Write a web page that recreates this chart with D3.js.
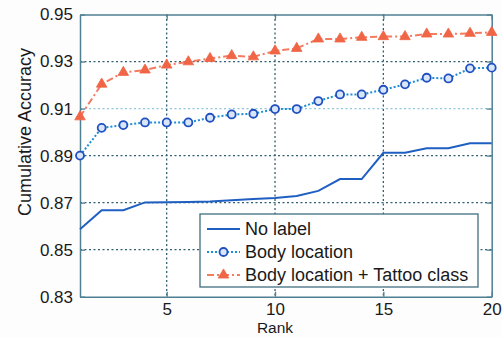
<!DOCTYPE html>
<html><head><meta charset="utf-8">
<script src="https://cdn.jsdelivr.net/npm/d3@7"></script>
<style>body{margin:0;background:#fdfdfe;} svg{display:block;font-family:"Liberation Sans",Arial,sans-serif;}</style>
</head><body>
<svg id="c" width="502" height="337"></svg>
<script>
const ranks = d3.range(1, 21);
const noLabel = [0.8587,0.8668,0.8668,0.8701,0.8702,0.8703,0.8705,0.8710,0.8715,0.8720,0.8728,0.8750,0.8800,0.8800,0.8912,0.8912,0.8931,0.8931,0.8952,0.8952];
const bodyLoc = [0.8900,0.9018,0.9030,0.9041,0.9041,0.9041,0.9061,0.9075,0.9078,0.9098,0.9098,0.9132,0.9160,0.9160,0.9180,0.9203,0.9231,0.9228,0.9271,0.9274];
const bodyTattoo = [0.9065,0.9204,0.9254,0.9264,0.9285,0.9299,0.9313,0.9325,0.9320,0.9345,0.9356,0.9396,0.9396,0.9403,0.9406,0.9406,0.9417,0.9417,0.9420,0.9424];
const yTicks = [0.83,0.85,0.87,0.89,0.91,0.93,0.95];
const xTicks = [5,10,15,20];
const seriesNames = ["No label","Body location","Body location + Tattoo class"];

const svg = d3.select("#c");
const L=80, R=491.7, T=14.5, B=296.7;
const x = d3.scaleLinear().domain([1,20]).range([L,R]);
const y = d3.scaleLinear().domain([0.83,0.95]).range([B,T]);
const gridCol = "#2f5f72", frameCol="#4f7f92";

svg.append("rect").attr("x",L).attr("y",T).attr("width",R-L).attr("height",B-T).attr("fill","#ffffff");

// gridlines
const g = svg.append("g");
g.selectAll(".gy").data(yTicks.slice(1,-1)).join("line")
  .attr("x1",L).attr("x2",R).attr("y1",d=>y(d)).attr("y2",d=>y(d))
  .attr("stroke",d=>d===0.91?"#8fc6d8":gridCol).attr("stroke-width",1.3).attr("stroke-dasharray","2,2.5");
g.selectAll(".gx").data(xTicks.slice(0,-1)).join("line")
  .attr("y1",T).attr("y2",B).attr("x1",d=>x(d)).attr("x2",d=>x(d))
  .attr("stroke",gridCol).attr("stroke-width",1.3).attr("stroke-dasharray","2,2.5");

// axes
const yAxisL = d3.axisLeft(y).tickValues(yTicks).tickFormat(d3.format(".2f")).tickSizeInner(-5).tickSizeOuter(0).tickPadding(7);
const yAxisR = d3.axisRight(y).tickValues(yTicks).tickFormat("").tickSizeInner(-5).tickSizeOuter(0);
const xAxisB = d3.axisBottom(x).tickValues(xTicks).tickSizeInner(-5).tickSizeOuter(0).tickPadding(6.5);
const xAxisT = d3.axisTop(x).tickValues(xTicks).tickFormat("").tickSizeInner(-5).tickSizeOuter(0);
function style(sel){
  sel.selectAll("path").attr("stroke",frameCol).attr("stroke-width",1.5);
  sel.selectAll("line").attr("stroke",frameCol).attr("stroke-width",1.3);
  sel.selectAll("text").attr("fill","#1a1a1a").attr("font-size",17).attr("font-family","Liberation Sans, Arial, sans-serif");
}
svg.append("g").attr("transform",`translate(${L},0)`).call(yAxisL).call(style);
svg.append("g").attr("transform",`translate(${R},0)`).call(yAxisR).call(style);
svg.append("g").attr("transform",`translate(0,${B})`).call(xAxisB).call(style);
svg.append("g").attr("transform",`translate(0,${T})`).call(xAxisT).call(style);

svg.append("text").attr("x",275).attr("y",333).attr("text-anchor","middle")
  .attr("font-size",15.5).attr("fill","#1a1a1a").text("Rank");
svg.append("text").attr("transform","translate(31,132) rotate(-90)").attr("text-anchor","middle")
  .attr("font-size",18).attr("fill","#1a1a1a").text("Cumulative Accuracy");

// lines
const line = d3.line().x((d,i)=>x(ranks[i])).y(d=>y(d));
const styles = [
  {data:noLabel, color:"#1f5fc2", dash:null, width:2, marker:null},
  {data:bodyLoc, color:"#1a8ed6", dash:"2,2", width:2, marker:"circle", mcolor:"#1f4fc0"},
  {data:bodyTattoo, color:"#f47a60", dash:"7,3,2,3", width:2, marker:"tri", mcolor:"#f06545"}
];
const tri = d3.symbol().type(d3.symbolTriangle).size(48);
styles.forEach(s=>{
  svg.append("path").datum(s.data).attr("d",line).attr("fill","none")
    .attr("stroke",s.color).attr("stroke-width",s.width).attr("stroke-dasharray",s.dash);
  if(s.marker==="circle"){
    svg.append("g").selectAll("circle").data(s.data).join("circle")
      .attr("cx",(d,i)=>x(ranks[i])).attr("cy",d=>y(d)).attr("r",4)
      .attr("fill","#d8e6f8").attr("stroke",s.mcolor).attr("stroke-width",1.8);
  } else if(s.marker==="tri"){
    svg.append("g").selectAll("path").data(s.data).join("path")
      .attr("transform",(d,i)=>`translate(${x(ranks[i])},${y(d)})`).attr("d",tri)
      .attr("fill",s.mcolor).attr("stroke",s.mcolor).attr("stroke-width",0.8);
  }
});

// legend
const lg = svg.append("g");
lg.append("rect").attr("x",200).attr("y",214).attr("width",278).attr("height",73)
  .attr("fill","#ffffff").attr("stroke","#3f6f82").attr("stroke-width",1.3);
const rows=[229,252,275];
styles.forEach((s,i)=>{
  const yy=rows[i];
  lg.append("line").attr("x1",207).attr("x2",240).attr("y1",yy).attr("y2",yy)
    .attr("stroke",s.color).attr("stroke-width",s.width).attr("stroke-dasharray",s.dash);
  if(s.marker==="circle") lg.append("circle").attr("cx",223.5).attr("cy",yy).attr("r",4)
      .attr("fill","#d8e6f8").attr("stroke",s.mcolor).attr("stroke-width",1.8);
  if(s.marker==="tri") lg.append("path").attr("transform",`translate(223.5,${yy})`).attr("d",tri)
      .attr("fill",s.mcolor).attr("stroke",s.mcolor).attr("stroke-width",0.8);
  lg.append("text").attr("x",245).attr("y",yy+6).attr("font-size",18).attr("fill","#1a1a1a").text(seriesNames[i]);
});
</script>
</body></html>
